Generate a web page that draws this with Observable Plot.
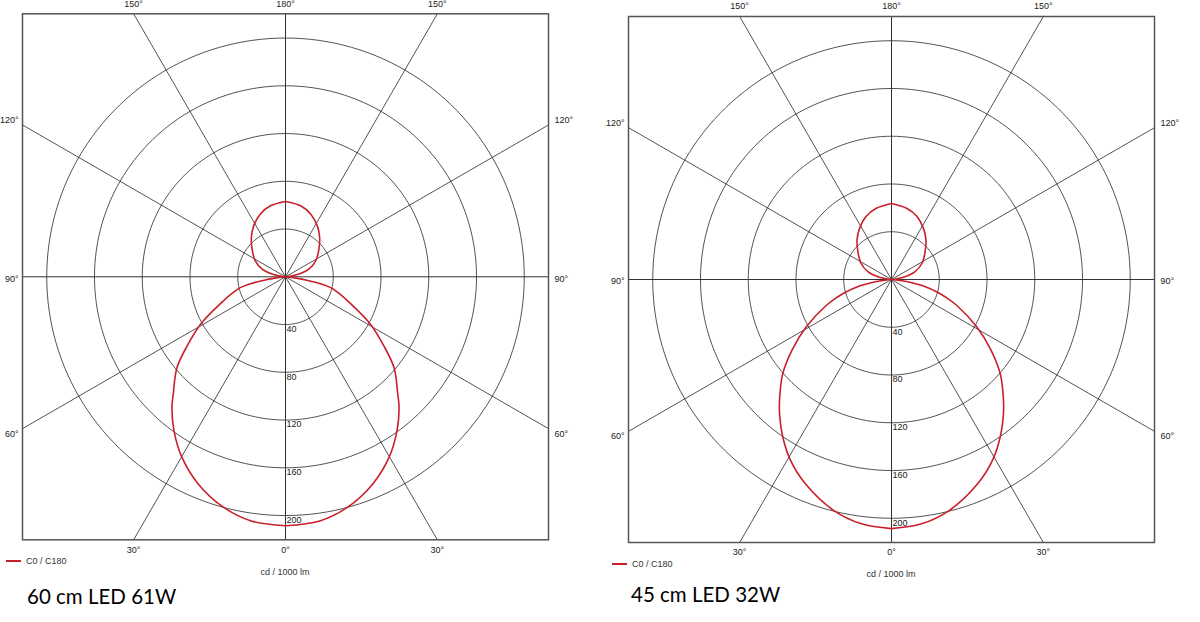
<!DOCTYPE html>
<html><head><meta charset="utf-8">
<script src="https://cdn.jsdelivr.net/npm/d3@7"></script>
<script src="https://cdn.jsdelivr.net/npm/@observablehq/plot@0.6"></script>
<style>
body{margin:0;background:#fff;width:1200px;height:622px;overflow:hidden;position:relative;font-family:"Liberation Sans",Arial,sans-serif;}
.panel{position:absolute;top:0;width:600px;height:560px;}
.legend{position:absolute;font-size:9px;line-height:10px;color:#333;display:flex;align-items:center;white-space:nowrap;}
.legend .sw{width:15px;height:0;border-top:2px solid #c8202a;margin-right:5px;}
.unit{position:absolute;font-size:9px;line-height:10px;color:#333;transform:translateX(-50%);white-space:nowrap;}
.title{position:absolute;font-family:Lato,"Open Sans",sans-serif;font-size:20.5px;line-height:24px;color:#000;white-space:nowrap;}
</style></head><body>
<script>
// ---- data ----
const ringValues = [40, 80, 120, 160, 200];
const spokeAngles = [0, 30, 60, 90, 120, 150, 180];
const unitLabel = "cd / 1000 lm";
const seriesName = "C0 / C180";
const titles = ["60 cm LED 61W", "45 cm LED 32W"];

// luminous intensity (cd/1000 lm) vs gamma angle (0 = down, 180 = up)
const gamma61 = [0, 8, 15, 23, 30, 36, 41, 44, 50, 55, 61, 68, 72, 76.5, 79, 81, 83, 85, 87.5, 90, 92.5, 95, 98, 101.5, 108, 118, 130, 139, 148, 158, 168, 180];
const cd61    = [208.5, 206.5, 200, 188, 174, 159, 145, 135.2, 118.8, 100.3, 80.8, 57.8, 48.5, 39, 29, 18, 9, 4, 1.2, 0, 1, 3, 5.5, 11.5, 20.5, 28.8, 36.6, 43.6, 50.3, 56.6, 60.8, 63.1];

const gamma32 = [0, 7, 14, 23, 29.6, 35, 39.5, 43, 49, 54.7, 61, 68.4, 72, 74.6, 78, 80.5, 83, 85, 87.5, 90, 92.5, 95, 98, 101.5, 108, 118, 130, 139, 148, 158, 168, 180];
const cd32    = [208.7, 206.2, 199.5, 185.5, 172.6, 159.3, 147.3, 137.5, 120.8, 102, 81.6, 58.6, 47.5, 40, 29, 18, 9, 4, 1.2, 0, 1, 3, 5.5, 11.5, 20.5, 29, 36.8, 44, 50.5, 57, 61, 63.7];

// ---- layout ----
const H = 220.3; // half-size of the square frame, in cd units
const panels = [
  {left: 0,   ml: 22, mt: 13.3, gam: gamma61, val: cd61, title: titles[0],
   leg: {x: 6, y: 561}, unit: {x: 285, y: 572}, ttl: {x: 27, y: 596}},
  {left: 600, ml: 28, mt: 16,   gam: gamma32, val: cd32, title: titles[1],
   leg: {x: 612, y: 563.5}, unit: {x: 891, y: 574}, ttl: {x: 631, y: 593.5}}
];

const rad = d => d * Math.PI / 180;
const FONT = "Liberation Sans, Arial, sans-serif";

function drawPanel(p) {
  // rings
  const ringPts = [];
  for (const v of ringValues) for (let t = 0; t <= 360; t += 2)
    ringPts.push({ring: v, x: v * Math.sin(rad(t)), y: v * Math.cos(rad(t))});
  // spokes
  const spokes = [];
  for (const a of spokeAngles) for (const s of (a === 0 || a === 180 ? [1] : [1, -1])) {
    const sn = Math.sin(rad(a)), cs = Math.cos(rad(a));
    const t = H / Math.max(Math.abs(sn), Math.abs(cs));
    spokes.push({a, s, x1: 0, y1: 0, x2: s * t * sn, y2: -t * cs, main: a % 90 === 0});
  }
  // curve C0 / C180 (symmetric)
  const curve = [];
  p.gam.forEach((g, i) => curve.push({x: p.val[i] * Math.sin(rad(g)), y: -p.val[i] * Math.cos(rad(g))}));
  for (let i = p.gam.length - 1; i >= 0; i--) {
    const g = p.gam[i];
    curve.push({x: -p.val[i] * Math.sin(rad(g)), y: -p.val[i] * Math.cos(rad(g))});
  }
  // angle labels
  const labelMarks = spokes.map(sp => {
    const o = {x: "x2", y: "y2", text: d => d.a + "°", fontSize: 9, fontFamily: FONT, fill: "#222"};
    if (sp.a < 45) { o.dy = 10; o.textAnchor = "middle"; }
    else if (sp.a > 135) { o.dy = -10; o.textAnchor = "middle"; }
    else {
      o.textAnchor = sp.s > 0 ? "start" : "end";
      o.dx = sp.s > 0 ? 6 : -4;
      o.dy = sp.a > 90 ? -5 : sp.a < 90 ? 5 : 2;
    }
    return Plot.text([sp], o);
  });
  const W = 600, Ht = 560;
  return Plot.plot({
    width: W, height: Ht,
    marginLeft: p.ml, marginTop: p.mt,
    marginRight: W - p.ml - 526, marginBottom: Ht - p.mt - 526,
    x: {domain: [-H, H], axis: null},
    y: {domain: [-H, H], axis: null},
    style: {background: "transparent", overflow: "visible"},
    marks: [
      Plot.line(ringPts, {x: "x", y: "y", z: "ring", stroke: "#1a1a1a", strokeWidth: 0.75}),
      Plot.link(spokes.filter(d => !d.main), {x1: "x1", y1: "y1", x2: "x2", y2: "y2", stroke: "#1a1a1a", strokeWidth: 0.75}),
      Plot.link(spokes.filter(d => d.main), {x1: "x1", y1: "y1", x2: "x2", y2: "y2", stroke: "#333", strokeWidth: 1}),
      Plot.text(ringValues, {x: () => 0, y: d => -d, text: d => String(d), textAnchor: "start", lineAnchor: "top", dx: 1, dy: 1, fontSize: 9, fontFamily: FONT, fill: "#222"}),
      Plot.line(curve, {x: "x", y: "y", stroke: "#c8202a", strokeWidth: 1.6, curve: "catmull-rom"}),
      Plot.frame({stroke: "#555", strokeWidth: 1.5}),
      ...labelMarks
    ]
  });
}

for (const p of panels) {
  const div = document.createElement("div");
  div.className = "panel";
  div.style.left = p.left + "px";
  div.appendChild(drawPanel(p));
  document.body.appendChild(div);

  const leg = document.createElement("div");
  leg.className = "legend";
  leg.style.left = p.leg.x + "px";
  leg.style.top = (p.leg.y - 5) + "px";
  leg.innerHTML = '<span class="sw"></span><span></span>';
  leg.lastChild.textContent = seriesName;
  document.body.appendChild(leg);

  const u = document.createElement("div");
  u.className = "unit";
  u.style.left = p.unit.x + "px";
  u.style.top = (p.unit.y - 5) + "px";
  u.textContent = unitLabel;
  document.body.appendChild(u);

  const t = document.createElement("div");
  t.className = "title";
  t.style.left = p.ttl.x + "px";
  t.style.top = (p.ttl.y - 12) + "px";
  t.textContent = p.title;
  document.body.appendChild(t);
}
</script>
</body></html>
